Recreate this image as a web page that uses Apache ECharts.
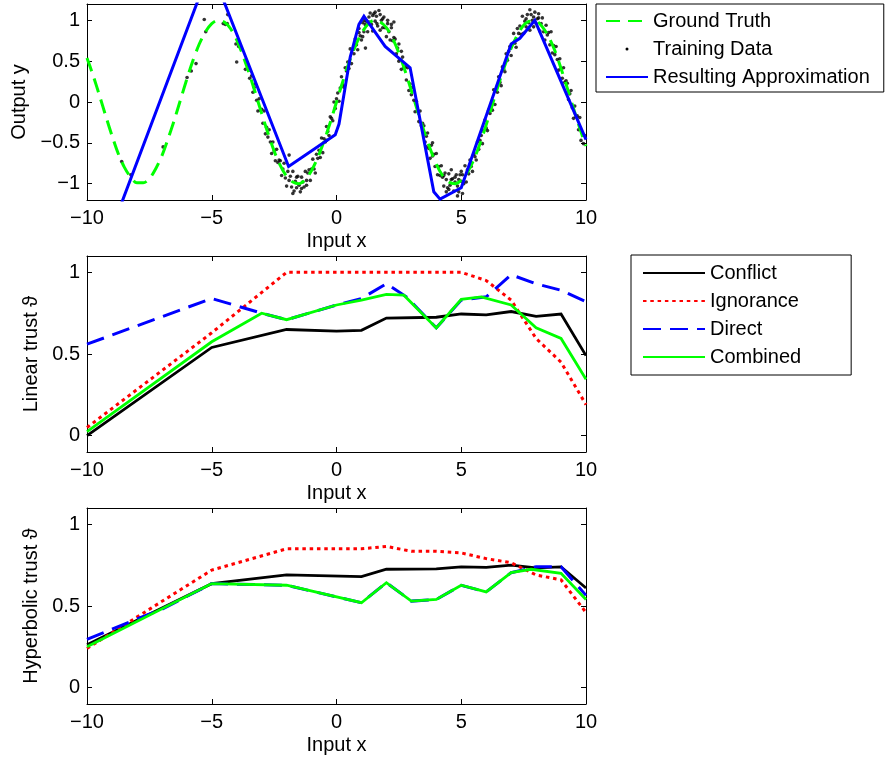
<!DOCTYPE html>
<html>
<head>
<meta charset="utf-8">
<script src="https://cdn.jsdelivr.net/npm/echarts@6/dist/echarts.min.js"></script>
<style>
  html, body { margin: 0; padding: 0; background: #fff; }
  #chart { width: 889px; height: 758px; }
</style>
</head>
<body>
<div id="chart"></div>
<script>
// ---- tick labels ----
const xTicks = [-10, -5, 0, 5, 10];
const outputTicks = [-1, -0.5, 0, 0.5, 1];
const trustTicks = [0, 0.5, 1];

// ---- top panel: function approximation ----
const groundTruth = [[-10,0.54],[-9.75,0.32],[-9.5,0.08],[-9.25,-0.17],[-9,-0.41],[-8.75,-0.63],[-8.5,-0.80],[-8.25,-0.92],[-8,-0.99],[-7.75,-0.99],[-7.5,-0.94],[-7.25,-0.82],[-7,-0.66],[-6.75,-0.45],[-6.5,-0.22],[-6.25,0.03],[-6,0.28],[-5.75,0.51],[-5.5,0.71],[-5.25,0.86],[-5,0.96],[-4.75,1.00],[-4.5,0.98],[-4.25,0.90],[-4,0.76],[-3.75,0.57],[-3.5,0.35],[-3.25,0.11],[-3,-0.14],[-2.75,-0.38],[-2.5,-0.60],[-2.25,-0.78],[-2,-0.91],[-1.75,-0.98],[-1.5,-1.00],[-1.25,-0.95],[-1,-0.84],[-0.75,-0.68],[-0.5,-0.48],[-0.25,-0.25],[0,0],[0.25,0.25],[0.5,0.48],[0.75,0.68],[1,0.84],[1.25,0.95],[1.5,1.00],[1.75,0.98],[2,0.91],[2.25,0.78],[2.5,0.60],[2.75,0.38],[3,0.14],[3.25,-0.11],[3.5,-0.35],[3.75,-0.57],[4,-0.76],[4.25,-0.90],[4.5,-0.98],[4.75,-1.00],[5,-0.96],[5.25,-0.86],[5.5,-0.71],[5.75,-0.51],[6,-0.28],[6.25,-0.03],[6.5,0.22],[6.75,0.45],[7,0.66],[7.25,0.82],[7.5,0.94],[7.75,0.99],[8,0.99],[8.25,0.92],[8.5,0.80],[8.75,0.63],[9,0.41],[9.25,0.17],[9.5,-0.08],[9.75,-0.32],[10,-0.54]];

const trainingData = [
  [-8.61,-0.73],[-8.24,-0.89],[-6.95,-0.55],[-5.99,0.30],[-5.82,0.38],[-5.63,0.47],[-5.30,1.01],[-5.24,0.86],
  [-4.54,0.96],[-4.45,0.95],[-4.38,0.96],[-4.36,1.07],[-4.03,0.71],[-3.92,0.68],[-4.00,0.49],[-3.65,0.40],[-3.48,0.29],
  [-3.40,0.32],[-3.35,0.12],[-3.30,0.18],[-3.25,0.22],[-3.20,0.02],[-3.15,-0.11],[-3.10,0.04],[-3.05,-0.10],[-3.00,-0.09],
  [-2.95,-0.26],[-2.90,-0.11],[-2.85,-0.39],[-2.80,-0.31],[-2.75,-0.43],[-2.70,-0.34],[-2.65,-0.49],[-2.60,-0.63],[-2.55,-0.49],
  [-2.50,-0.60],[-2.45,-0.72],[-2.40,-0.58],[-2.35,-0.74],[-2.30,-0.71],[-2.25,-0.72],[-2.20,-0.90],[-2.15,-0.82],[-2.10,-0.75],
  [-2.05,-0.93],[-2.00,-1.03],[-1.95,-0.85],[-1.90,-0.96],[-1.85,-0.91],[-1.80,-1.04],[-1.75,-0.85],[-1.70,-1.09],[-1.65,-0.97],
  [-1.60,-1.05],[-1.55,-0.91],[-1.50,-1.02],[-1.45,-1.10],[-1.40,-0.92],[-1.35,-0.98],[-1.30,-1.04],[-1.25,-0.85],[-1.20,-0.96],
  [-1.15,-0.87],[-1.10,-0.83],[-1.05,-0.96],[-1.00,-0.82],[-0.95,-0.70],[-0.90,-0.82],[-0.85,-0.87],[-0.80,-0.64],[-0.75,-0.69],
  [-0.70,-0.59],[-0.65,-0.68],[-0.60,-0.44],[-0.55,-0.62],[-0.50,-0.45],[-0.45,-0.49],[-0.40,-0.30],[-0.35,-0.36],[-0.30,-0.41],
  [-0.25,-0.18],[-0.20,-0.20],[-0.15,-0.23],[-0.10,0.00],[-0.05,-0.08],[0.00,0.04],[0.05,0.11],[0.10,0.01],[0.15,0.17],
  [0.20,0.31],[0.25,0.21],[0.30,0.18],[0.35,0.42],[0.40,0.38],[0.45,0.49],[0.50,0.41],[0.55,0.65],[0.60,0.47],
  [0.65,0.64],[0.70,0.59],[0.75,0.77],[0.80,0.70],[0.85,0.64],[0.90,0.85],[0.95,0.81],[1.00,0.76],[1.05,0.97],
  [1.10,0.86],[1.15,0.95],[1.20,0.99],[1.25,0.86],[1.30,0.98],[1.35,1.09],[1.40,0.95],[1.45,0.87],[1.50,1.08],
  [1.55,0.99],[1.60,1.05],[1.65,0.93],[1.70,1.12],[1.75,0.88],[1.80,1.00],[1.85,0.91],[1.90,1.04],[1.95,0.91],
  [2.00,0.80],[2.05,0.96],[2.10,0.86],[2.15,0.76],[2.20,0.91],[2.25,0.75],[2.30,0.79],[2.35,0.77],[2.40,0.59],
  [2.45,0.66],[2.50,0.71],[2.55,0.52],[2.60,0.40],[2.65,0.55],[2.70,0.42],[2.75,0.43],[2.80,0.27],[2.85,0.42],
  [2.90,0.14],[2.95,0.22],[3.00,0.09],[3.05,0.18],[3.10,0.02],[3.15,-0.12],[3.20,0.01],[3.25,-0.11],[3.30,-0.24],
  [3.35,-0.11],[3.40,-0.29],[3.45,-0.26],[3.50,-0.29],[3.55,-0.49],[3.60,-0.42],[3.65,-0.38],[3.70,-0.57],[3.75,-0.69],
  [3.80,-0.53],[3.85,-0.66],[3.90,-0.64],[3.95,-0.79],[4.00,-0.63],[4.05,-0.89],[4.10,-0.79],[4.15,-0.90],[4.20,-0.78],
  [4.25,-0.92],[4.30,-1.03],[4.35,-0.87],[4.40,-0.95],[4.45,-1.05],[4.50,-0.88],[4.55,-1.02],[4.60,-0.95],[4.65,-0.94],
  [4.70,-1.09],[4.75,-0.98],[4.80,-0.89],[4.85,-1.03],[4.90,-1.10],[4.95,-0.89],[5.00,-0.97],[5.05,-0.89],[5.10,-1.00],
  [5.15,-0.78],[5.20,-0.98],[5.25,-0.83],[5.30,-0.88],[5.35,-0.71],[5.40,-0.79],[5.45,-0.85],[5.50,-0.64],[5.55,-0.67],
  [5.60,-0.71],[5.65,-0.49],[5.70,-0.58],[5.75,-0.47],[5.80,-0.41],[5.85,-0.51],[5.90,-0.35],[5.95,-0.22],[6.00,-0.32],
  [6.05,-0.35],[6.10,-0.10],[6.15,-0.14],[6.20,-0.03],[6.25,-0.10],[6.30,0.15],[6.35,-0.03],[6.40,0.15],[6.45,0.12],
  [6.50,0.31],[6.55,0.24],[6.60,0.20],[6.65,0.43],[6.70,0.40],[6.75,0.37],[6.80,0.59],[6.85,0.51],[6.90,0.62],
  [6.95,0.68],[7.00,0.57],[7.05,0.71],[7.10,0.84],[7.15,0.72],[7.20,0.67],[7.25,0.90],[7.30,0.84],[7.35,0.93],
  [7.40,0.83],[7.45,1.05],[7.50,0.84],[7.55,0.99],[7.60,0.92],[7.65,1.07],[7.70,0.97],[7.75,0.88],[7.80,1.07],
  [7.85,1.00],[7.90,0.92],[7.95,1.10],[8.00,0.96],[8.05,1.02],[8.10,1.03],[8.15,0.87],[8.20,0.96],[8.25,1.03],
  [8.30,0.86],[8.35,0.76],[8.40,0.94],[8.45,0.82],[8.50,0.85],[8.55,0.70],[8.60,0.86],[8.65,0.60],[8.70,0.69],
  [8.75,0.58],[8.80,0.68],[8.85,0.52],[8.90,0.39],[8.95,0.53],[9.00,0.41],[9.05,0.29],[9.10,0.42],[9.15,0.24],
  [9.20,0.26],[9.25,0.23],[9.30,0.03],[9.35,0.10],[9.40,0.14],[9.45,-0.07],[9.50,-0.20],[9.55,-0.05],[9.60,-0.18],
  [9.65,-0.17],[9.70,-0.34],[9.75,-0.19],[9.80,-0.47],[9.85,-0.38],[9.90,-0.51],[9.95,-0.41],
  [1.30,1.04],[1.45,1.06],[1.55,1.10],[1.62,0.96],[1.75,1.07],[1.85,1.02],[2.05,1.00],[2.20,0.95],[2.30,0.98],
  [1.05,0.80],[1.12,1.00],[1.16,0.66],[0.90,0.90],[2.60,0.62],[2.50,0.50],
  [4.30,-0.90],[4.50,-1.07],[4.60,-0.83],[4.75,-0.92],[4.85,-1.15],[5.00,-0.85],[5.05,-1.12],[4.90,-0.95],[4.40,-1.10],
  [-1.75,-1.12],[-1.60,-0.92],[-1.40,-1.06],[-1.90,-0.65],[-1.20,-1.02],[-0.40,-0.47],
  [7.75,1.13],[7.90,1.04],[8.10,1.08],[7.60,1.02],[3.60,-0.55],[3.85,-0.50]
];

const approximation = [[-10,-2.36],[-5.05,1.65],[-1.92,-0.79],[-0.05,-0.40],[0.10,-0.27],[0.55,0.55],[0.90,0.95],[1.10,1.05],[1.95,0.68],[2.95,0.42],[3.90,-1.10],[4.15,-1.19],[5.00,-1.05],[7.00,0.71],[7.35,0.78],[7.95,1.00],[10,-0.46]];

// ---- middle panel: linear trust ----
const linConflict = [[-10,0.00],[-5,0.54],[-2,0.65],[0,0.64],[1,0.645],[2,0.72],[4,0.725],[5,0.745],[6,0.74],[7,0.76],[8,0.73],[9,0.745],[10,0.49]];
const linIgnorance = [[-10,0.05],[-5,0.63],[-2,1.0],[5,1.0],[6,0.95],[7,0.83],[8,0.595],[9,0.45],[10,0.19]];
const linDirect = [[-10,0.56],[-5,0.84],[-3,0.75],[-2,0.71],[-1,0.755],[0,0.80],[1,0.84],[2,0.93],[2.8,0.85],[4,0.66],[5,0.83],[6,0.85],[7,0.985],[8,0.93],[9,0.89],[10,0.82]];
const linCombined = [[-10,0.025],[-5,0.575],[-3,0.75],[-2,0.71],[0,0.80],[1,0.83],[2,0.865],[2.7,0.86],[4,0.66],[5,0.835],[5.8,0.85],[7,0.80],[8,0.66],[9,0.595],[10,0.345]];

// ---- bottom panel: hyperbolic trust ----
const hypConflict = [[-10,0.263],[-5,0.637],[-2,0.69],[1,0.68],[2,0.725],[4,0.727],[5,0.74],[6,0.737],[7,0.75],[8,0.733],[9,0.74],[10,0.61]];
const hypIgnorance = [[-10,0.24],[-5,0.72],[-2,0.85],[1,0.85],[2,0.865],[3,0.835],[4,0.835],[5,0.825],[6,0.79],[7,0.765],[8,0.69],[9,0.66],[10,0.46]];
const hypDirect = [[-10,0.296],[-8,0.42],[-7,0.48],[-5,0.637],[-2,0.627],[1,0.52],[2,0.643],[3,0.53],[4,0.54],[5,0.627],[6,0.586],[7,0.704],[8,0.74],[9,0.74],[10,0.565]];
const hypCombined = [[-10,0.25],[-5,0.637],[-2,0.627],[1,0.52],[2,0.643],[3,0.53],[4,0.54],[5,0.627],[6,0.586],[7,0.704],[7.8,0.725],[9,0.70],[10,0.54]];

// ---- styling ----
const FONT = '"Liberation Sans", Arial, Helvetica, sans-serif';
const FS = 20;
const GREEN = '#00ff00', BLUE = '#0000ff', RED = '#ff0000', BLACK = '#000000';
const minus = v => String(v).replace('-', '\u2212');

const grids = [
  { left: 87, top: 4, width: 499, height: 196 },
  { left: 87, top: 256, width: 499, height: 196 },
  { left: 87, top: 508, width: 499, height: 196 }
];
const yRanges = [[-1.2, 1.2], [-0.1, 1.1], [-0.1, 1.1]];
const yTickSets = [outputTicks, trustTicks, trustTicks];
const yNames = ['Output y', 'Linear trust \u03D1', 'Hyperbolic trust \u03D1'];
const yNameGaps = [53, 38, 38];

const textBase = { color: BLACK, fontSize: FS, fontFamily: FONT };
const axisLine = { show: true, onZero: false, lineStyle: { color: BLACK, width: 1 } };

const xAxes = [], yAxes = [];
grids.forEach((g, i) => {
  const tick = { show: true, inside: true, length: 5, lineStyle: { color: BLACK, width: 1 }, customValues: xTicks };
  xAxes.push({
    type: 'value', gridIndex: i, position: 'bottom', min: -10, max: 10,
    axisLine, axisTick: tick, splitLine: { show: false },
    axisLabel: Object.assign({ margin: 8, formatter: minus, customValues: xTicks }, textBase),
    name: 'Input x', nameLocation: 'middle', nameGap: 31, nameTextStyle: textBase
  });
  xAxes.push({
    type: 'value', gridIndex: i, position: 'top', min: -10, max: 10,
    axisLine, axisTick: tick, splitLine: { show: false }, axisLabel: { show: false }
  });
  const ytick = { show: true, inside: true, length: 5, lineStyle: { color: BLACK, width: 1 }, customValues: yTickSets[i] };
  yAxes.push({
    type: 'value', gridIndex: i, position: 'left', min: yRanges[i][0], max: yRanges[i][1],
    axisLine, axisTick: ytick, splitLine: { show: false },
    axisLabel: Object.assign({ margin: 7, formatter: minus, customValues: yTickSets[i] }, textBase),
    name: yNames[i], nameLocation: 'middle', nameGap: yNameGaps[i], nameTextStyle: textBase
  });
  yAxes.push({
    type: 'value', gridIndex: i, position: 'right', min: yRanges[i][0], max: yRanges[i][1],
    axisLine, axisTick: ytick, splitLine: { show: false }, axisLabel: { show: false }
  });
});

function lineSeries(name, data, panel, color, width, dash) {
  return {
    name, type: 'line', data, xAxisIndex: panel * 2, yAxisIndex: panel * 2,
    symbol: 'none', clip: true, color,
    lineStyle: { color, width, type: dash || 'solid', cap: 'butt', join: 'miter' },
    itemStyle: { color }
  };
}

const DOTTED = [3.5, 3.8];
const DASHED = [18, 9];

const series = [
  Object.assign(lineSeries('Ground Truth', groundTruth, 0, GREEN, 3, [14, 8]), { smooth: 0.3 }),
  {
    name: 'Training Data', type: 'scatter', data: trainingData, xAxisIndex: 0, yAxisIndex: 0,
    symbol: 'circle', symbolSize: 3.6, color: BLACK, itemStyle: { color: BLACK }, clip: true
  },
  lineSeries('Resulting Approximation', approximation, 0, BLUE, 3),

  lineSeries('Conflict', linConflict, 1, BLACK, 2.8),
  lineSeries('Ignorance', linIgnorance, 1, RED, 3, DOTTED),
  lineSeries('Direct', linDirect, 1, BLUE, 3, DASHED),
  lineSeries('Combined', linCombined, 1, GREEN, 2.8),

  lineSeries('Conflict', hypConflict, 2, BLACK, 2.8),
  lineSeries('Ignorance', hypIgnorance, 2, RED, 3, DOTTED),
  lineSeries('Direct', hypDirect, 2, BLUE, 3, DASHED),
  lineSeries('Combined', hypCombined, 2, GREEN, 2.8)
];

// legend entries show only the line sample (no marker)
const legendBox = {
  orient: 'vertical', backgroundColor: '#fff', borderColor: BLACK, borderWidth: 1, borderRadius: 0,
  itemHeight: 14, itemGap: 8, selectedMode: false, textStyle: textBase,
  itemStyle: { opacity: 0, borderWidth: 0 }
};

const option = {
  animation: false,
  backgroundColor: '#fff',
  textStyle: { fontFamily: FONT },
  grid: grids,
  xAxis: xAxes,
  yAxis: yAxes,
  legend: [
    Object.assign({}, legendBox, {
      left: 596, top: 4, itemWidth: 42, padding: [7, 14, 5, 9],
      data: [
        { name: 'Ground Truth' },
        { name: 'Training Data', icon: 'path://M0,0M42,14M19.5,7a1.5,1.5,0,1,0,3,0a1.5,1.5,0,1,0,-3,0z',
          itemStyle: { opacity: 1, color: BLACK } },
        { name: 'Resulting Approximation' }
      ]
    }),
    Object.assign({}, legendBox, {
      left: 631, top: 255, itemWidth: 62, padding: [8, 50, 8, 11],
      data: ['Conflict', 'Ignorance', 'Direct', 'Combined']
    })
  ],
  series
};

const chart = echarts.init(document.getElementById('chart'), null, { renderer: 'canvas' });
chart.setOption(option);
</script>
</body>
</html>
